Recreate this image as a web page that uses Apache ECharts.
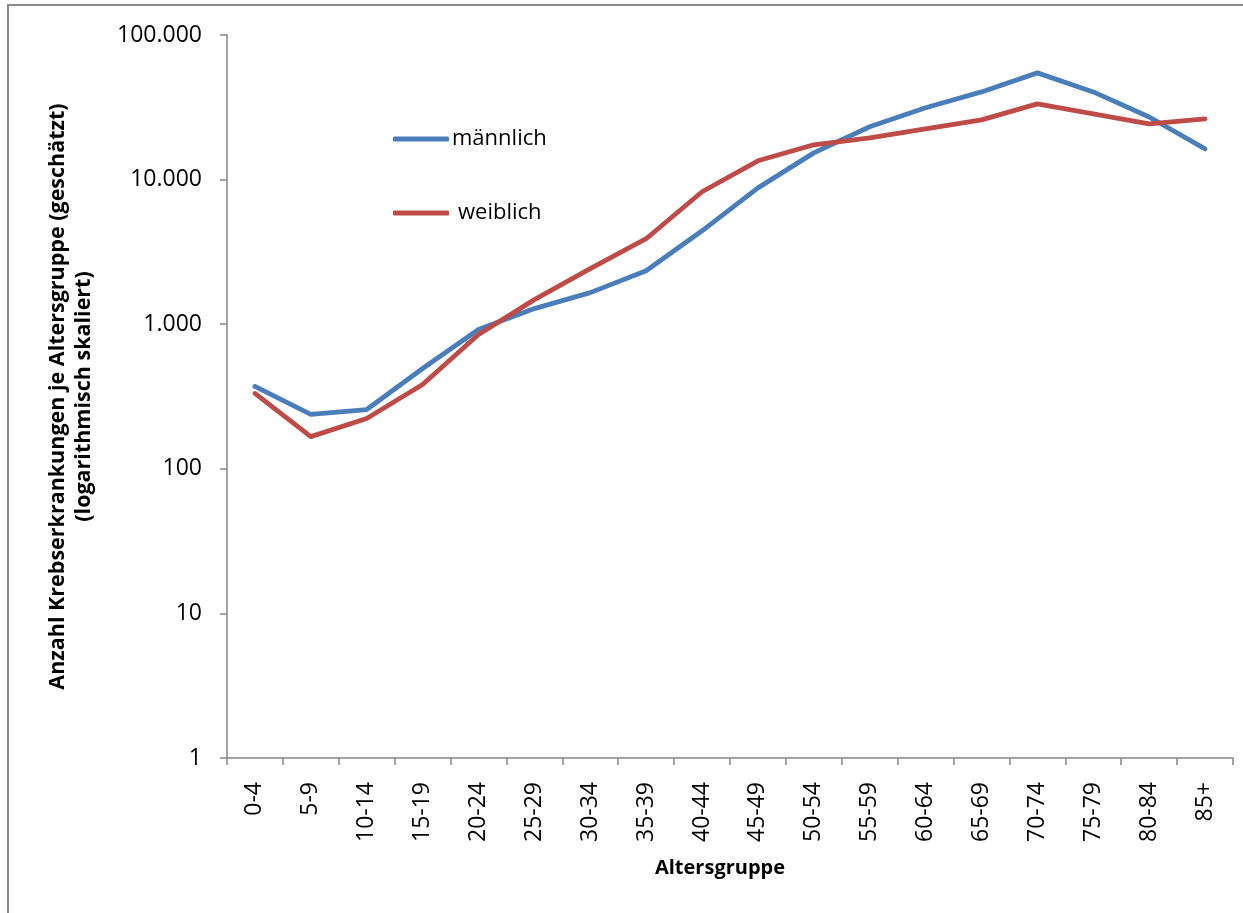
<!DOCTYPE html>
<html>
<head>
<meta charset="utf-8">
<script src="https://cdn.jsdelivr.net/npm/echarts@6/dist/echarts.min.js"></script>
<style>
  html, body { margin: 0; padding: 0; background: #fff; }
  #chart { width: 1243px; height: 913px; }
</style>
</head>
<body>
<div id="chart"></div>
<script>
// Altersgruppen (x-Achse)
const ageGroups = ['0-4', '5-9', '10-14', '15-19', '20-24', '25-29', '30-34', '35-39', '40-44',
  '45-49', '50-54', '55-59', '60-64', '65-69', '70-74', '75-79', '80-84', '85+'];

// Geschätzte Krebserkrankungen je Altersgruppe
const maennlich = [371, 238, 257, 494, 918, 1282, 1653, 2344, 4426, 8770, 15300, 23200,
  31400, 40400, 54700, 40400, 27100, 16300];
const weiblich = [332, 167, 223, 383, 848, 1479, 2421, 3900, 8240, 13490, 17400, 19400,
  22400, 25900, 33400, 28500, 24300, 26300];

// Beschriftungen der logarithmischen Achse
const yTickLabels = { 1: '1', 10: '10', 100: '100', 1000: '1.000', 10000: '10.000', 100000: '100.000' };

const FONT = '"Open Sans", "Noto Sans", sans-serif';
const BLUE = '#4a7ebb';
const RED = '#be4b48';
const AXIS = '#878787';
const TEXT = '#000000';

const chart = echarts.init(document.getElementById('chart'), null, { renderer: 'canvas' });

chart.setOption({
  animation: false,
  backgroundColor: '#ffffff',
  grid: { left: 227, right: 10, top: 35, bottom: 155, containLabel: false },
  graphic: [{
    type: 'rect',
    silent: true,
    shape: { x: 8, y: 5, width: 1400, height: 1000 },
    style: { fill: 'none', stroke: '#8a8a8a', lineWidth: 2 }
  }],
  legend: [{
    left: 393, top: 128,
    padding: 0,
    selectedMode: false,
    data: [{ name: 'männlich', icon: 'roundRect' }],
    itemWidth: 56, itemHeight: 5,
    textStyle: { fontFamily: FONT, fontSize: 22, color: TEXT, padding: [0, 0, 0, -2] }
  }, {
    left: 393, top: 202,
    padding: 0,
    selectedMode: false,
    data: [{ name: 'weiblich', icon: 'roundRect' }],
    itemWidth: 56, itemHeight: 5,
    textStyle: { fontFamily: FONT, fontSize: 22, color: TEXT, padding: [0, 0, 0, 4] }
  }],
  xAxis: {
    type: 'category',
    data: ageGroups,
    boundaryGap: true,
    name: 'Altersgruppe',
    nameLocation: 'middle',
    nameGap: 100,
    nameTextStyle: { fontFamily: FONT, fontSize: 20, fontWeight: 'bold', color: TEXT, padding: [0, 20, 0, 0] },
    axisLine: { lineStyle: { color: AXIS, width: 1.5 } },
    axisTick: { show: true, length: 7, inside: false, alignWithLabel: false, lineStyle: { color: AXIS, width: 1.5 } },
    axisLabel: { rotate: 90, margin: 24, fontFamily: FONT, fontSize: 23, color: TEXT, interval: 0 },
    splitLine: { show: false }
  },
  yAxis: {
    type: 'log',
    logBase: 10,
    min: 1,
    max: 100000,
    name: 'Anzahl Krebserkrankungen je Altersgruppe (geschätzt)\n(logarithmisch skaliert)',
    nameLocation: 'middle',
    nameRotate: 90,
    nameGap: 130,
    nameTextStyle: { fontFamily: FONT, fontSize: 21.5, fontWeight: 'bold', color: TEXT, lineHeight: 26, align: 'center' },
    axisLine: { show: true, lineStyle: { color: AXIS, width: 1.5 } },
    axisTick: { show: true, length: 7, inside: false, lineStyle: { color: AXIS, width: 1.5 } },
    axisLabel: {
      margin: 25, fontFamily: FONT, fontSize: 23, color: TEXT,
      formatter: v => yTickLabels[Math.round(v)] || ''
    },
    splitLine: { show: false }
  },
  series: [{
    name: 'männlich',
    type: 'line',
    data: maennlich,
    showSymbol: false,
    symbol: 'none',
    color: BLUE,
    lineStyle: { color: BLUE, width: 4.8, cap: 'round', join: 'round' },
    z: 2
  }, {
    name: 'weiblich',
    type: 'line',
    data: weiblich,
    showSymbol: false,
    symbol: 'none',
    color: RED,
    lineStyle: { color: RED, width: 4.8, cap: 'round', join: 'round' },
    z: 3
  }]
});
</script>
</body>
</html>
